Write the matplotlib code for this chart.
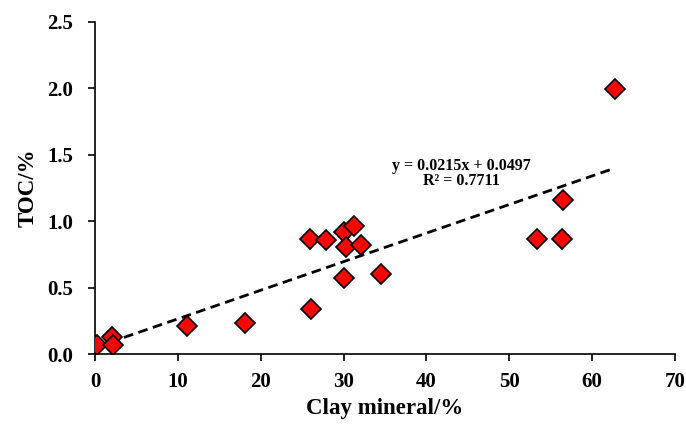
import matplotlib
matplotlib.use('Agg')
import matplotlib.pyplot as plt
import numpy as np

clay = [0.2, 2.1, 2.2, 11.1, 18.1, 25.9, 26.1, 27.9, 30.0, 31.2, 30.3, 32.1, 30.0, 34.5, 53.4, 56.4, 56.5, 62.7]
toc = [0.07, 0.125, 0.07, 0.21, 0.23, 0.865, 0.34, 0.857, 0.915, 0.962, 0.807, 0.82, 0.57, 0.60, 0.865, 0.865, 1.158, 1.99]
slope, intercept = 0.0215, 0.0497
eq_text = 'y = 0.0215x + 0.0497\nR² = 0.7711'

plt.rcParams['font.family'] = 'Liberation Serif'
plt.rcParams['font.weight'] = 'bold'

fig = plt.figure(figsize=(6.86, 4.25), dpi=100)
ax = fig.add_axes([0.1385, 0.167, 0.8455, 0.782])

xf = np.array([0, max(clay)])
ax.plot(xf, slope * xf + intercept, ls=(0, (3.5, 2)), color='black', lw=2, zorder=2)
ax.plot(clay, toc, 'D', ms=10.5, mfc='#ff0000', mec='black', mew=1.2, ls='none', zorder=3)

ax.text(44.2, 1.36, eq_text, ha='center', va='center', fontsize=11.5, fontweight='bold', linespacing=0.95)

ax.set_xlim(0, 70)
ax.set_ylim(0, 2.5)
ax.set_xticks(np.arange(0, 71, 10))
ax.set_yticks(np.arange(0, 2.51, 0.5))
ax.yaxis.set_major_formatter(matplotlib.ticker.FormatStrFormatter('%.1f'))
for s in ['top', 'right']:
    ax.spines[s].set_visible(False)
for s in ['left', 'bottom']:
    ax.spines[s].set_linewidth(1.2)
ax.tick_params(labelsize=15, width=1.2, length=5)
ax.tick_params(axis='y', pad=11)
ax.tick_params(axis='x', pad=8)
ax.set_xlabel('Clay mineral/%', fontsize=16.5, fontweight='bold', labelpad=4)
ax.set_ylabel('TOC/%', fontsize=16.5, fontweight='bold', labelpad=6)

fig.savefig('out.png', dpi=100)
